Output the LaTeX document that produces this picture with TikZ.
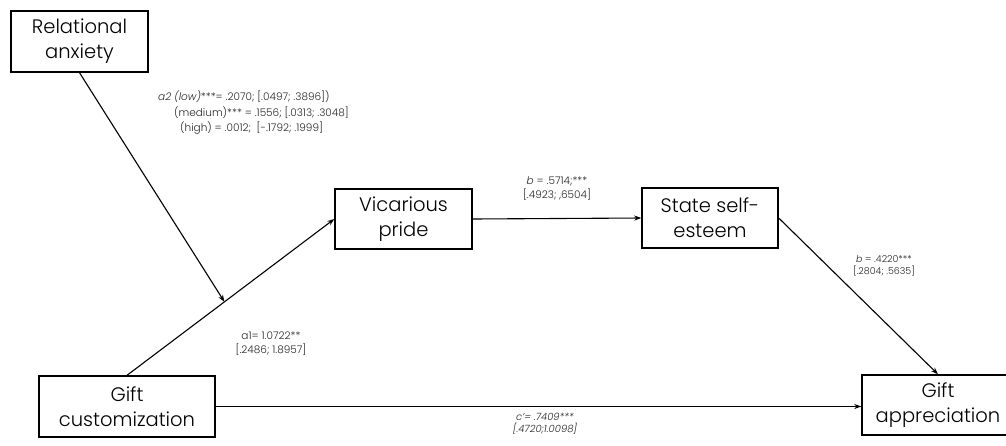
\documentclass[tikz,border=0pt]{standalone}
\usepackage{fontspec}
\setmainfont{Poppins}[UprightFont=* Light,ItalicFont=* Light Italic]
\usetikzlibrary{arrows.meta,calc}
\begin{document}
\begin{tikzpicture}[x=1pt,y=-1pt,
  box/.style={draw=black,line width=1.4pt,fill=white,align=center,inner sep=0pt,
    font=\fontsize{19.5}{25}\selectfont},
  conn/.style={line width=1.1pt,-{Stealth[length=7pt,width=5pt]}},
  lab/.style={align=center,inner sep=0pt,font=\fontsize{10.5}{14.5}\selectfont,text=black!85}]
\clip (0,0) rectangle (1006,445);
\fill[white] (0,0) rectangle (1006,445);
% nodes
\node[box,minimum width=137pt,minimum height=61pt] (ra) at (79.5,41.5) {Relational\\anxiety};
\node[box,minimum width=137pt,minimum height=60pt] (vp) at (403.5,219) {Vicarious\\pride};
\node[box,minimum width=136pt,minimum height=60pt] (sse) at (710,218) {State self-\\esteem};
\node[box,minimum width=176pt,minimum height=61pt] (gc) at (127,406.5) {Gift\\customization};
\node[box,minimum width=152pt,minimum height=60pt] (ga) at (938,405) {Gift\\appreciation};
% connectors
\coordinate (mod) at ($(gc.north)!0.47!(vp.west)$);
\draw[conn] (gc.north) -- (vp.west);
\draw[conn] (ra.south) -- (mod);
\draw[conn] (vp.east) -- (sse.west);
\draw[conn] (sse.east) -- (ga.north);
\draw[conn] (gc.east) -- (gc.east -| ga.west);
% labels
\node[lab,anchor=west] (a2a) at (158,97) {\textit{a2 (low)}***= .2070; [.0497; .3896])};
\node[lab,anchor=west] (a2b) at (174,113) {(medium)*** = .1556; [.0313; .3048]};
\node[lab,anchor=west] (a2c) at (180,128) {(high) = .0012;\ \ [-.1792; .1999]};
\node[lab] (lb1) at (557,188.5) {\textit{b} = .5714;***\\{}[.4923; ,6504]};
\node[lab,font=\fontsize{9.5}{12.5}\selectfont] (lb2) at (884,266) {\textit{b} = .4220***\\{}[.2804; .5635]};
\node[lab] (la1) at (271,343.5) {a1= 1.0722**\\{}[.2486; 1.8957]};
\node[lab,font=\fontsize{10}{12}\selectfont\itshape] (lc) at (545,423.5) {c'= .7409***\\{}[.4720;1.0098]};
\end{tikzpicture}
\end{document}
